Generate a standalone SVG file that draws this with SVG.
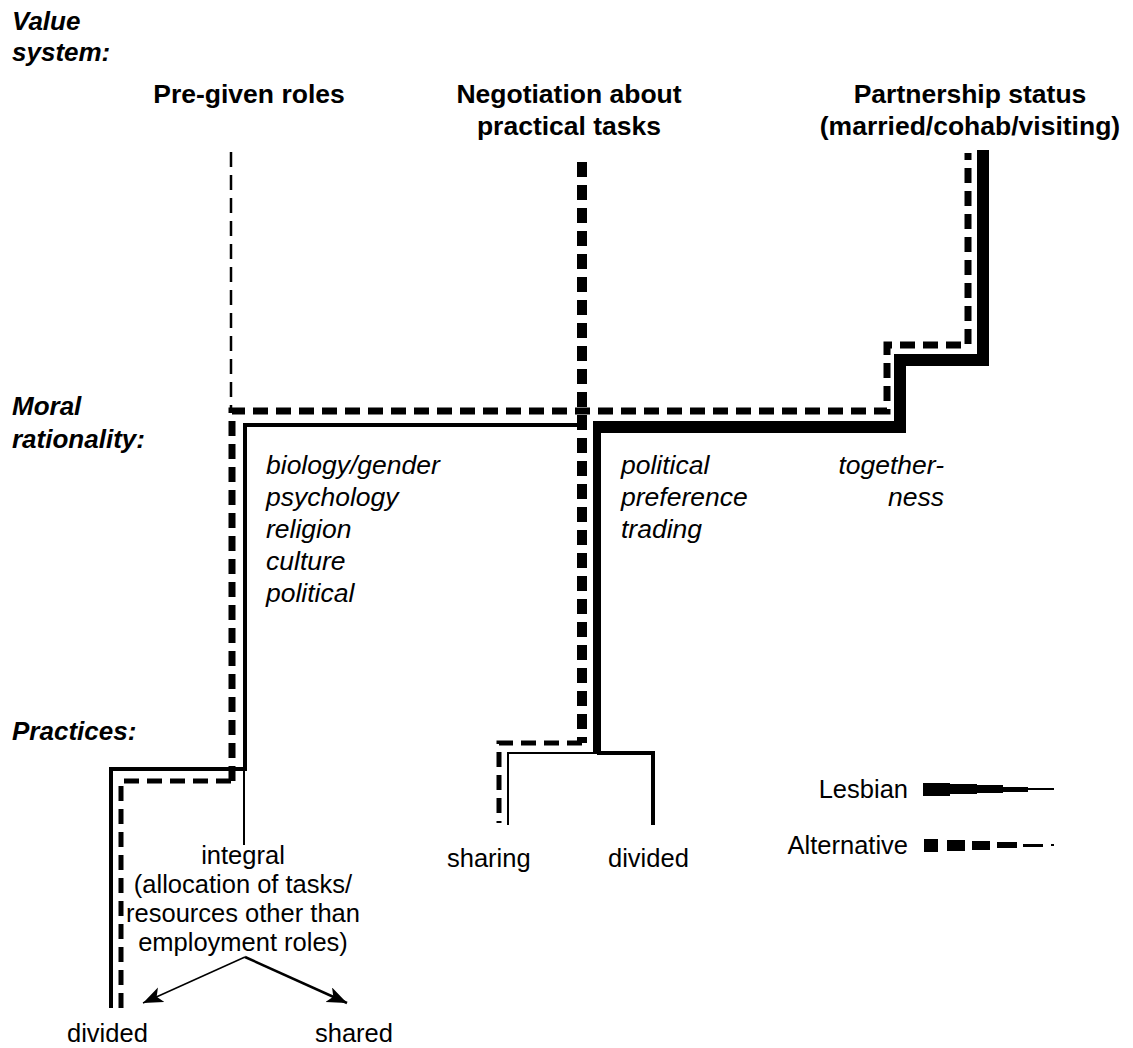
<svg xmlns="http://www.w3.org/2000/svg" width="1133" height="1048" viewBox="0 0 1133 1048">
<style>
text{font-family:"Liberation Sans",Arial,sans-serif;fill:#000}
.lvl{font-size:26px;font-weight:bold;font-style:italic}
.hd{font-size:26.5px;font-weight:bold;text-anchor:middle}
.it{font-size:26.5px;font-style:italic}
.rg{font-size:25.5px}
.c{text-anchor:middle}
.ln{fill:none;stroke:#000;stroke-linecap:butt;stroke-linejoin:miter}
.ds{stroke-dasharray:15 8}
</style>
<defs>
<marker id="ah" markerUnits="userSpaceOnUse" markerWidth="24" markerHeight="18" refX="20" refY="8" orient="auto">
<path d="M20 8 L0 0 L5 8 L0 16 Z" fill="#000"/>
</marker>
</defs>
<rect width="1133" height="1048" fill="#fff"/>
<g id="levels">
<text class="lvl" x="12" y="30">Value</text>
<text class="lvl" x="12" y="61">system:</text>
<text class="lvl" x="12" y="415">Moral</text>
<text class="lvl" x="12" y="448">rationality:</text>
<text class="lvl" x="12" y="740">Practices:</text>
</g>
<g id="node-pregiven"><text class="hd" x="249" y="103">Pre-given roles</text></g>
<g id="node-negotiation"><text class="hd" x="569" y="103">Negotiation about</text><text class="hd" x="569" y="135">practical tasks</text></g>
<g id="node-partnership"><text class="hd" x="970" y="103">Partnership status</text><text class="hd" x="970" y="135">(married/cohab/visiting)</text></g>
<g id="node-pregiven-moral">
<text class="it" x="266" y="474">biology/gender</text>
<text class="it" x="266" y="506">psychology</text>
<text class="it" x="266" y="538">religion</text>
<text class="it" x="266" y="570">culture</text>
<text class="it" x="266" y="602">political</text>
</g>
<g id="node-negotiation-moral">
<text class="it" x="621" y="474">political</text>
<text class="it" x="621" y="506">preference</text>
<text class="it" x="621" y="538">trading</text>
</g>
<g id="node-partnership-moral">
<text class="it" x="944" y="474" text-anchor="end">together-</text>
<text class="it" x="944" y="506" text-anchor="end">ness</text>
</g>
<g id="node-integral">
<text class="rg c" x="243" y="864">integral</text>
<text class="rg c" x="243" y="893">(allocation of tasks/</text>
<text class="rg c" x="243" y="922">resources other than</text>
<text class="rg c" x="243" y="951">employment roles)</text>
</g>
<g id="node-divided1"><text class="rg" x="67" y="1042">divided</text></g>
<g id="node-shared"><text class="rg" x="315" y="1042">shared</text></g>
<g id="node-sharing"><text class="rg" x="447" y="867">sharing</text></g>
<g id="node-divided2"><text class="rg" x="608" y="867">divided</text></g>
<g id="legend">
<text class="rg" x="908" y="798" text-anchor="end">Lesbian</text>
<rect x="923" y="783" width="27" height="13"/>
<rect x="950" y="784" width="27" height="10"/>
<rect x="977" y="785" width="26" height="8"/>
<rect x="1003" y="787" width="25" height="5"/>
<rect x="1028" y="788" width="26" height="2"/>
<text class="rg" x="908" y="854" text-anchor="end">Alternative</text>
<rect x="924" y="839" width="14" height="13"/>
<rect x="947" y="840" width="18" height="11"/>
<rect x="972" y="841" width="18" height="9"/>
<rect x="997" y="842" width="20" height="6"/>
<rect x="1023" y="844" width="20" height="3"/>
<rect x="1051" y="844" width="3" height="2"/>
</g>
<g id="connectors">
<path class="ln ds" d="M231 152 V410" stroke-width="2.5"/>
<path class="ln ds" d="M582 162 V743" stroke-width="10"/>
<path class="ln ds" d="M582 743 H499 V823" stroke-width="5"/>
<path class="ln ds" d="M121 1008 V781 H232" stroke-width="5"/>
<path class="ln ds" d="M232 781 V411 H887 V345 H968 V153" stroke-width="7"/>
<path class="ln" d="M111 1008 V769 H245 V425 H584" stroke-width="4"/>
<path class="ln" d="M244 769 V845" stroke-width="2"/>
<path class="ln" d="M597 753 V422" stroke-width="8"/>
<path class="ln" d="M593 427 H900 V360 H983 V150" stroke-width="12"/>
<path class="ln" d="M597 753 H653 V825" stroke-width="4"/>
<path class="ln" d="M597 753 H508 V825" stroke-width="2"/>
<path class="ln" d="M245 957 L143 1003" stroke-width="1.5" marker-end="url(#ah)"/>
<path class="ln" d="M245 957 L347 1003" stroke-width="2.5" marker-end="url(#ah)"/>
</g>
</svg>
